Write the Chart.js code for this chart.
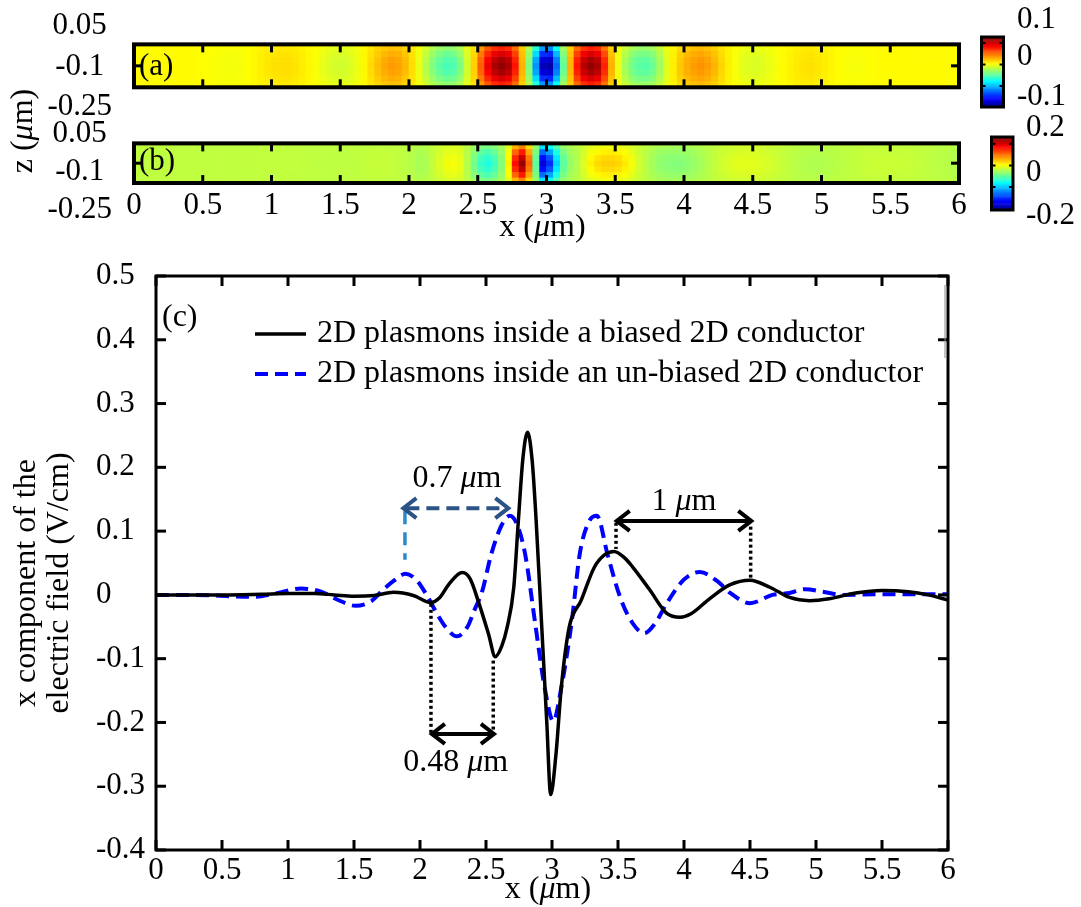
<!DOCTYPE html>
<html>
<head>
<meta charset="utf-8">
<title>2D plasmons</title>
<script src="https://cdn.jsdelivr.net/npm/chart.js@4.4.1/dist/chart.umd.min.js"></script>
<style>
  html, body { margin: 0; padding: 0; background: #fff; }
  #fig { position: relative; width: 1081px; height: 907px; overflow: hidden; }
  #fig canvas { position: absolute; left: 0; }
</style>
</head>
<body>
<div id="fig">
  <canvas id="stripA" width="1081" height="163" style="top:-15px"></canvas>
  <canvas id="stripB" width="1081" height="191" style="top:60px"></canvas>
  <canvas id="field" width="1081" height="667" style="top:240px"></canvas>
</div>
<script>
// ticks
var xTicks = [0, 0.5, 1, 1.5, 2, 2.5, 3, 3.5, 4, 4.5, 5, 5.5, 6];
var fieldTicks = [-0.4, -0.3, -0.2, -0.1, 0, 0.1, 0.2, 0.3, 0.4, 0.5];
var zTicks = [0.05, -0.1, -0.25];
var barATicks = ['0.1', '0', '-0.1'];
var barBTicks = ['0.2', '0', '-0.2'];

// panel (c): biased conductor (solid black)
var biasedX = [0, 0.5, 0.8, 1.0, 1.2, 1.35, 1.5, 1.65, 1.8, 1.95, 2.08, 2.15, 2.22, 2.32, 2.38, 2.44, 2.52, 2.57, 2.62, 2.66,
  2.71, 2.745, 2.78, 2.815, 2.85, 2.88, 2.92, 2.96, 2.99, 3.03, 3.07, 3.13, 3.22, 3.32, 3.4, 3.47, 3.55, 3.61, 3.74, 3.87,
  3.97, 4.05, 4.2, 4.35, 4.5, 4.65, 4.8, 4.95, 5.1, 5.3, 5.5, 5.7, 5.85, 6.0];
var biasedY = [0, 0, 0.001, 0.002, 0.002, 0, -0.002, -0.001, 0.004, -0.001, -0.012, -0.004, 0.017, 0.035, 0.025, -0.009, -0.062, -0.097, -0.08, -0.051,
  0.011, 0.116, 0.215, 0.255, 0.21, 0.116, -0.041, -0.198, -0.313, -0.25, -0.146, -0.051, -0.009, 0.043, 0.063, 0.068, 0.058, 0.044, 0.008, -0.029,
  -0.035, -0.03, -0.005, 0.016, 0.023, 0.012, -0.004, -0.009, -0.006, 0.003, 0.007, 0.005, 0, -0.008];

// panel (c): un-biased conductor (dashed blue)
var unbiasedX = [0, 0.3, 0.55, 0.75, 0.9, 1.1, 1.25, 1.38, 1.51, 1.63, 1.72, 1.8, 1.89, 1.97, 2.05, 2.13, 2.2, 2.28, 2.36, 2.41,
  2.47, 2.54, 2.62, 2.68, 2.74, 2.8, 2.87, 2.945, 3.01, 3.07, 3.15, 3.21, 3.28, 3.34, 3.42, 3.51, 3.6, 3.7, 3.78, 3.87,
  4.0, 4.12, 4.25, 4.35, 4.5, 4.67, 4.8, 4.92, 5.05, 5.2, 5.5, 6.0];
var unbiasedY = [0, 0, -0.002, -0.003, 0.002, 0.01, 0.005, -0.008, -0.017, -0.01, 0.008, 0.022, 0.033, 0.024, 0, -0.03, -0.052, -0.065, -0.05, -0.025,
  0.005, 0.064, 0.11, 0.124, 0.108, 0.06, -0.041, -0.146, -0.198, -0.146, -0.041, 0.064, 0.115, 0.124, 0.064, 0, -0.041, -0.06, -0.045, -0.013,
  0.024, 0.036, 0.022, 0.003, -0.013, 0, 0.003, 0.009, 0.005, 0, 0.001, 0.001];

// panels (a), (b): field along the middle of the strip, one value per 0.05 um cell
var stripStep = 0.05;
var stripA = [
  0, 0, 0, 0, 0, 0, 0, 0, 0, -0.001,
  -0.002, -0.003, -0.004, -0.005, -0.005, -0.004, -0.002, 0.001, 0.004, 0.007,
  0.009, 0.010, 0.010, 0.008, 0.005, 0.001, -0.004, -0.009, -0.014, -0.017,
  -0.017, -0.014, -0.008, 0.001, 0.011, 0.021, 0.029, 0.033, 0.031, 0.023,
  0.010, -0.008, -0.027, -0.045, -0.058, -0.065, -0.062, -0.045, -0.018, 0.015,
  0.055, 0.092, 0.115, 0.124, 0.115, 0.080, 0.025, -0.045, -0.125, -0.200,
  -0.205, -0.140, -0.055, 0.025, 0.080, 0.112, 0.124, 0.115, 0.075, 0.025,
  -0.008, -0.032, -0.050, -0.058, -0.060, -0.052, -0.035, -0.013, 0.004, 0.018,
  0.027, 0.033, 0.036, 0.032, 0.024, 0.013, 0.004, -0.004, -0.010, -0.013,
  -0.014, -0.012, -0.008, -0.004, 0.000, 0.003, 0.006, 0.008, 0.009, 0.007,
  0.005, 0.002, -0.001, -0.003, -0.004, -0.004, -0.003, -0.001, 0, 0,
  0, 0, 0, 0, 0, 0, 0, 0, 0, 0
];
var stripB = [
  0, 0, 0, 0, 0, 0, 0, 0, 0, 0,
  0, 0, 0, 0, 0, 0, 0.001, 0.001, 0.002, 0.002,
  0.002, 0.002, 0.002, 0.002, 0.001, 0, -0.001, -0.001, -0.001, -0.001,
  -0.001, -0.001, 0, 0.002, 0.003, 0.004, 0.004, 0.003, 0.001, -0.002,
  -0.007, -0.014, -0.011, 0.004, 0.018, 0.030, 0.035, 0.025, -0.004, -0.045,
  -0.082, -0.097, -0.075, -0.035, 0.045, 0.185, 0.252, 0.130, -0.060, -0.290,
  -0.240, -0.140, -0.060, -0.025, -0.008, 0.020, 0.045, 0.060, 0.067, 0.068,
  0.063, 0.050, 0.032, 0.013, -0.004, -0.017, -0.027, -0.033, -0.035, -0.035,
  -0.031, -0.024, -0.016, -0.007, 0.002, 0.010, 0.016, 0.020, 0.022, 0.022,
  0.021, 0.018, 0.014, 0.009, 0.004, -0.001, -0.005, -0.008, -0.009, -0.009,
  -0.008, -0.006, -0.004, -0.001, 0.001, 0.003, 0.005, 0.006, 0.007, 0.007,
  0.007, 0.006, 0.005, 0.004, 0.002, 0, -0.002, -0.004, -0.006, -0.008
];
// how strong each z row is compared with the middle row
var stripWeightsA = [0.62, 0.8, 0.94, 1, 0.94, 0.8, 0.62];
var stripWeightsB = [0.45, 0.7, 0.9, 1, 0.9, 0.7, 0.45];
// z edges of the rows (um)
var stripEdgesA = [-0.018, -0.041, -0.063, -0.086, -0.109, -0.132, -0.154, -0.177];
var stripEdgesB = [0.013, -0.009, -0.032, -0.054, -0.076, -0.099, -0.121, -0.1435];

var SERIF = '"Liberation Serif", "Times New Roman", serif';
Chart.defaults.font.family = SERIF;
Chart.defaults.color = '#000';
var tickFont = { family: SERIF, size: 31 };

function fmt(v) { return String(Math.round(v * 100) / 100); }

function jet(p) {
  p = Math.max(0, Math.min(1, p));
  function c(v) { return Math.round(255 * Math.max(0, Math.min(1, v))); }
  return 'rgb(' + c(1.5 - Math.abs(4 * p - 3)) + ',' + c(1.5 - Math.abs(4 * p - 2)) + ',' + c(1.5 - Math.abs(4 * p - 1)) + ')';
}

function seg(ctx, x1, y1, x2, y2) {
  ctx.beginPath(); ctx.moveTo(x1, y1); ctx.lineTo(x2, y2); ctx.stroke();
}

function chevron(ctx, x, y, dir) {
  ctx.setLineDash([]);
  ctx.beginPath();
  ctx.moveTo(x - dir * 13, y - 10); ctx.lineTo(x, y); ctx.lineTo(x - dir * 13, y + 10);
  ctx.stroke();
}

// text with an italic mu, parts = [[text, italic], ...]
function richText(ctx, parts, x, y, size, align) {
  var widths = parts.map(function (p) {
    ctx.font = (p[1] ? 'italic ' : '') + size + 'px ' + SERIF;
    return ctx.measureText(p[0]).width;
  });
  var total = widths.reduce(function (s, w) { return s + w; }, 0);
  var cx = align === 'center' ? x - total / 2 : (align === 'right' ? x - total : x);
  ctx.textAlign = 'left';
  ctx.textBaseline = 'middle';
  ctx.fillStyle = '#000';
  parts.forEach(function (p, i) {
    ctx.font = (p[1] ? 'italic ' : '') + size + 'px ' + SERIF;
    ctx.fillText(p[0], cx, y);
    cx += widths[i];
  });
}

function um(prefix, suffix) { return [[prefix, false], ['\u03bc', true], ['m' + (suffix || ''), false]]; }

function colorbar(ctx, bar) {
  var n = 64, h = bar.h / n;
  for (var i = 0; i < n; i++) {
    ctx.fillStyle = jet((i + 0.5) / n);
    ctx.fillRect(bar.x, bar.y + bar.h - (i + 1) * h, bar.w, h + 0.5);
  }
  ctx.strokeStyle = '#000'; ctx.lineWidth = 3; ctx.setLineDash([]);
  ctx.strokeRect(bar.x, bar.y, bar.w, bar.h);
  ctx.lineWidth = 2;
  bar.marks.forEach(function (m) {
    seg(ctx, bar.x, m, bar.x + 4, m);
    seg(ctx, bar.x + bar.w, m, bar.x + bar.w - 4, m);
  });
  bar.labels.forEach(function (t, i) { richText(ctx, [[t, false]], bar.lx, bar.ly[i], 31, 'left'); });
}

function stripDecor(tag, tagY, edges, bar, extra) {
  return {
    id: 'stripDecor',
    afterDraw: function (chart) {
      var ctx = chart.ctx, sx = chart.scales.x, sy = chart.scales.y;
      var L = sx.getPixelForValue(0), R = sx.getPixelForValue(6);
      var T = sy.getPixelForValue(edges[0]), B = sy.getPixelForValue(edges[edges.length - 1]);
      ctx.save();
      ctx.strokeStyle = '#000';
      ctx.lineWidth = 3;
      xTicks.forEach(function (v) {
        var p = sx.getPixelForValue(v);
        seg(ctx, p, T, p, T + 8);
        seg(ctx, p, B, p, B - 8);
      });
      seg(ctx, L, (T + B) / 2, L + 8, (T + B) / 2);
      seg(ctx, R, (T + B) / 2, R - 8, (T + B) / 2);
      ctx.lineWidth = 4;
      ctx.strokeRect(L, T, R - L, B - T);
      richText(ctx, [[tag, false]], L + 5, tagY, 31, 'left');
      colorbar(ctx, bar);
      if (extra) extra(ctx, sx);
      ctx.restore();
    }
  };
}

function makeStrip(id, values, weights, edges, cmin, cmax, withX, padding, decor) {
  var xs = values.map(function (v, i) { return (i + 0.5) * stripStep; });
  var datasets = weights.map(function (w, r) {
    return {
      data: xs.map(function (x) { return { x: x, y: [edges[r + 1], edges[r]] }; }),
      backgroundColor: values.map(function (v) { return jet((v * w - cmin) / (cmax - cmin)); }),
      borderWidth: 0,
      barPercentage: 1,
      categoryPercentage: 1,
      grouped: false
    };
  });
  return new Chart(document.getElementById(id), {
    type: 'bar',
    data: { datasets: datasets },
    options: {
      responsive: false,
      animation: false,
      events: [],
      layout: { padding: padding },
      plugins: { legend: { display: false }, tooltip: { enabled: false } },
      scales: {
        x: {
          type: 'linear', min: 0, max: 6, offset: false, display: withX,
          position: withX ? { y: edges[edges.length - 1] } : 'bottom',
          afterBuildTicks: function (s) { s.ticks = xTicks.map(function (v) { return { value: v }; }); },
          grid: { display: false, drawTicks: false },
          border: { display: false },
          ticks: { font: tickFont, padding: 4, maxRotation: 0, autoSkip: false, callback: fmt }
        },
        y: {
          type: 'linear', min: -0.25, max: 0.05,
          afterBuildTicks: function (s) { s.ticks = zTicks.map(function (v) { return { value: v }; }); },
          afterFit: function (s) { s.width = 134; },
          grid: { display: false, drawTicks: false },
          border: { display: false },
          ticks: { font: tickFont, padding: 22, crossAlign: 'center', autoSkip: false, callback: fmt }
        }
      }
    },
    plugins: [decor]
  });
}

// canvas A starts at page y = -15
makeStrip('stripA', stripA, stripWeightsA, stripEdgesA, -0.22, 0.13, false,
  { top: 41, right: 122, bottom: 41, left: 0 },
  stripDecor('(a)', 82, stripEdgesA,
    { x: 981.5, y: 52, w: 22, h: 70, marks: [58, 79.5, 101], labels: barATicks, lx: 1017, ly: [35, 72, 111.5] }));

// canvas B starts at page y = 60
makeStrip('stripB', stripB, stripWeightsB, stripEdgesB, -0.343, 0.267, true,
  { top: 74, right: 122, bottom: 41, left: 0 },
  stripDecor('(b)', 101.5, stripEdgesB,
    { x: 991.5, y: 77, w: 21.5, h: 73, marks: [84, 105.5, 127], labels: barBTicks, lx: 1026, ly: [68, 112.5, 155.5] },
    function (ctx, sx) {
      richText(ctx, um('x (', ')'), sx.getPixelForValue(3) - 4, 168, 32, 'center');
      ctx.save();
      ctx.translate(24, 71);
      ctx.rotate(-Math.PI / 2);
      richText(ctx, um('z (', ')'), 0, 0, 32, 'center');
      ctx.restore();
    }));

// annotations of panel (c), in data units
var spans = [
  { x1: 1.874, x2: 2.669, y: 0.136, color: '#2b5385', dash: [13, 7], text: '0.7 ', tx: 2.28, ty: 0.182 },
  { x1: 3.49, x2: 4.51, y: 0.116, color: '#000000', dash: [], text: '1 ', tx: 4.0, ty: 0.147 },
  { x1: 2.09, x2: 2.56, y: -0.218, color: '#000000', dash: [], text: '0.48 ', tx: 2.27, ty: -0.263 }
];
var guides = [
  { x: 1.886, y1: 0.131, y2: 0.055, color: '#2a8bc9', dash: [13, 8], width: 3.5 },
  { x: 3.485, y1: 0.113, y2: 0.072, color: '#000000', dash: [3, 3], width: 3.5 },
  { x: 4.505, y1: 0.107, y2: 0.025, color: '#000000', dash: [3, 3], width: 3.5 },
  { x: 2.083, y1: -0.014, y2: -0.218, color: '#000000', dash: [3, 3], width: 3.5 },
  { x: 2.555, y1: -0.103, y2: -0.218, color: '#000000', dash: [3, 3], width: 3.5 }
];

var fieldDecor = {
  id: 'fieldDecor',
  afterDraw: function (chart) {
    var ctx = chart.ctx, a = chart.chartArea, sx = chart.scales.x, sy = chart.scales.y;
    ctx.save();
    ctx.strokeStyle = '#000';
    ctx.lineWidth = 3;
    ctx.strokeRect(a.left, a.top, a.right - a.left, a.bottom - a.top);
    xTicks.forEach(function (v) {
      var p = sx.getPixelForValue(v);
      seg(ctx, p, a.bottom, p, a.bottom - 10);
      seg(ctx, p, a.top, p, a.top + 10);
    });
    fieldTicks.forEach(function (v) {
      var p = sy.getPixelForValue(v);
      seg(ctx, a.left, p, a.left + 10, p);
      seg(ctx, a.right, p, a.right - 10, p);
    });

    guides.forEach(function (g) {
      ctx.strokeStyle = g.color; ctx.lineWidth = g.width; ctx.setLineDash(g.dash);
      var px = sx.getPixelForValue(g.x);
      seg(ctx, px, sy.getPixelForValue(g.y1), px, sy.getPixelForValue(g.y2));
    });
    spans.forEach(function (s) {
      var x1 = sx.getPixelForValue(s.x1), x2 = sx.getPixelForValue(s.x2), y = sy.getPixelForValue(s.y);
      ctx.strokeStyle = s.color; ctx.lineWidth = 4; ctx.setLineDash(s.dash);
      seg(ctx, x1 + 3, y, x2 - 3, y);
      chevron(ctx, x1, y, -1);
      chevron(ctx, x2, y, 1);
      richText(ctx, um(s.text), sx.getPixelForValue(s.tx), sy.getPixelForValue(s.ty), 32, 'center');
    });
    ctx.setLineDash([]);

    richText(ctx, [['(c)', false]], a.left + 6, a.top + 42, 32, 'left');

    // legend
    chart.data.datasets.forEach(function (d, i) {
      var y = a.top + 58 + i * 40;
      ctx.strokeStyle = d.borderColor; ctx.lineWidth = d.borderWidth;
      ctx.setLineDash(d.borderDash || []);
      seg(ctx, a.left + 99, y, a.left + 150, y);
      ctx.setLineDash([]);
      richText(ctx, [[d.label, false]], a.left + 161, y, 32, 'left');
    });
    ctx.strokeStyle = '#888'; ctx.lineWidth = 1;
    seg(ctx, a.right - 3, a.top + 9, a.right - 3, a.top + 82);

    // axis titles
    richText(ctx, um('x (', ')'), sx.getPixelForValue(3) - 4, 650, 32, 'center');
    ctx.save();
    ctx.translate(27, (a.top + a.bottom) / 2 + 20);
    ctx.rotate(-Math.PI / 2);
    richText(ctx, [['x component of the', false]], 0, 0, 32, 'center');
    richText(ctx, [['electric field (V/cm)', false]], 0, 33, 32, 'center');
    ctx.restore();
    ctx.restore();
  }
};

new Chart(document.getElementById('field'), {
  type: 'line',
  data: {
    datasets: [
      {
        label: '2D plasmons inside a biased 2D conductor',
        data: biasedX.map(function (x, i) { return { x: x, y: biasedY[i] }; }),
        borderColor: '#000000', borderWidth: 3.5, pointRadius: 0, fill: false,
        cubicInterpolationMode: 'monotone'
      },
      {
        label: '2D plasmons inside an un-biased 2D conductor',
        data: unbiasedX.map(function (x, i) { return { x: x, y: unbiasedY[i] }; }),
        borderColor: '#0000ff', borderWidth: 4, borderDash: [13, 7], pointRadius: 0, fill: false,
        cubicInterpolationMode: 'monotone'
      }
    ]
  },
  options: {
    responsive: false,
    animation: false,
    events: [],
    layout: { padding: { top: 36, right: 133, bottom: 0, left: 96 } },
    plugins: { legend: { display: false }, tooltip: { enabled: false } },
    scales: {
      x: {
        type: 'linear', min: 0, max: 6,
        afterBuildTicks: function (s) { s.ticks = xTicks.map(function (v) { return { value: v }; }); },
        afterFit: function (s) { s.height = 57; },
        grid: { display: false, drawTicks: false },
        border: { display: false },
        ticks: { font: tickFont, padding: 2, maxRotation: 0, autoSkip: false, callback: fmt }
      },
      y: {
        type: 'linear', min: -0.4, max: 0.5,
        afterBuildTicks: function (s) { s.ticks = fieldTicks.map(function (v) { return { value: v }; }); },
        afterFit: function (s) { s.width = 60; },
        grid: { display: false, drawTicks: false },
        border: { display: false },
        ticks: { font: tickFont, padding: 0, crossAlign: 'far', autoSkip: false, callback: fmt }
      }
    }
  },
  plugins: [fieldDecor]
});
</script>
</body>
</html>
